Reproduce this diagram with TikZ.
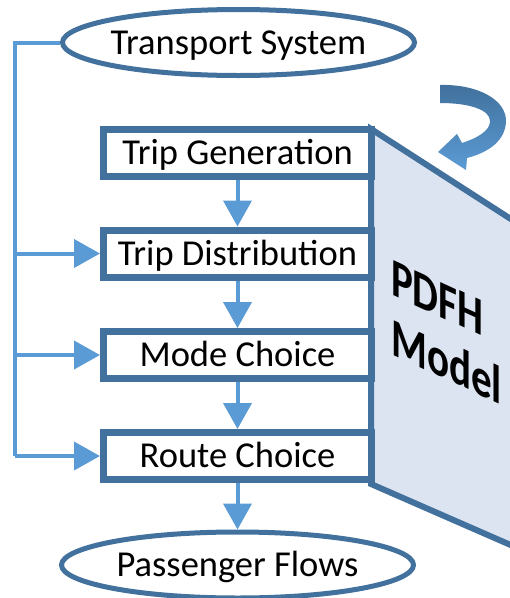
\documentclass[tikz,border=0pt]{standalone}
\usepackage{fontspec}
\setmainfont{Carlito}
\usetikzlibrary{arrows.meta,shapes.geometric}
\definecolor{edgeblue}{HTML}{41719C}
\definecolor{flowblue}{HTML}{5B9BD5}
\definecolor{panelfill}{HTML}{DDE4F1}

\begin{document}
\begin{tikzpicture}[x=1pt,y=-1pt,
  labeltext/.style={inner sep=0pt, font=\fontsize{36.5}{40}\selectfont, text height=25pt, text depth=2pt},
  stage/.style={labeltext, draw=edgeblue, line width=7pt, fill=white,
    minimum width=268pt, minimum height=47pt},
  terminal/.style={ellipse, draw=edgeblue, line width=5pt, fill=white,
    inner sep=0pt, minimum width=352pt, minimum height=66pt},
  feed/.style={draw=flowblue, line width=4pt},
  flow/.style={feed, -{Triangle[length=26pt,width=28pt]}}
]
\clip (0,0) rectangle (510,598);
\fill[white] (0,0) rectangle (510,598);

% model panel seen in perspective
\filldraw[fill=panelfill, draw=edgeblue, line width=6pt, line join=miter]
  (371,129) -- (545,241) -- (545,560) -- (371,484) -- cycle;

% curved arrow on top of the panel
\shade[top color=edgeblue, bottom color=flowblue]
  (440,85) .. controls (478,84) and (507,100) .. (506,122)
  .. controls (505,140) and (490,152) .. (467,158)
  -- (466,170) -- (438,152) -- (457,134) -- (462,143)
  .. controls (480,137) and (490,130) .. (490,121)
  .. controls (490,110) and (470,103) .. (440,103) -- cycle;

% panel title, slanted with the panel
\begin{scope}[shift={(391,259)}, cm={0.76,-0.35,0,1,(0,0)}]
  \node[anchor=north west, inner sep=0pt, align=left, transform shape,
    font=\bfseries\fontsize{54}{60}\selectfont] (pdfh) at (0,0) {PDFH\\Model};
\end{scope}

% stages
\node[stage] (tg) at (237.5,153) {Trip Generation};
\node[stage] (td) at (237.5,253.5) {Trip Distribution};
\node[stage] (mc) at (237.5,355) {Mode Choice};
\node[stage] (rc) at (237.5,456) {Route Choice};

% input and output
\node[terminal] (ts) at (238.5,42.5) {};
\node[labeltext] (tsText) at (ts.center) {Transport System};
\node[terminal] (pf) at (237.5,565) {};
\node[labeltext] (pfText) at (pf.center) {Passenger Flows};

% main chain
\draw[flow] (tg.south) -- (td.north);
\draw[flow] (td.south) -- (mc.north);
\draw[flow] (mc.south) -- (rc.north);
\draw[flow] (rc.south) -- (pf.north);

% transport system feeding the later stages
\coordinate (spine) at (15,0);
\draw[feed, line join=miter] (ts.west) -- (ts.west -| spine) -- (rc.west -| spine);
\draw[flow] (td.west -| spine) -- (td.west);
\draw[flow] (mc.west -| spine) -- (mc.west);
\draw[flow] (rc.west -| spine) -- (rc.west);
\end{tikzpicture}
\end{document}
